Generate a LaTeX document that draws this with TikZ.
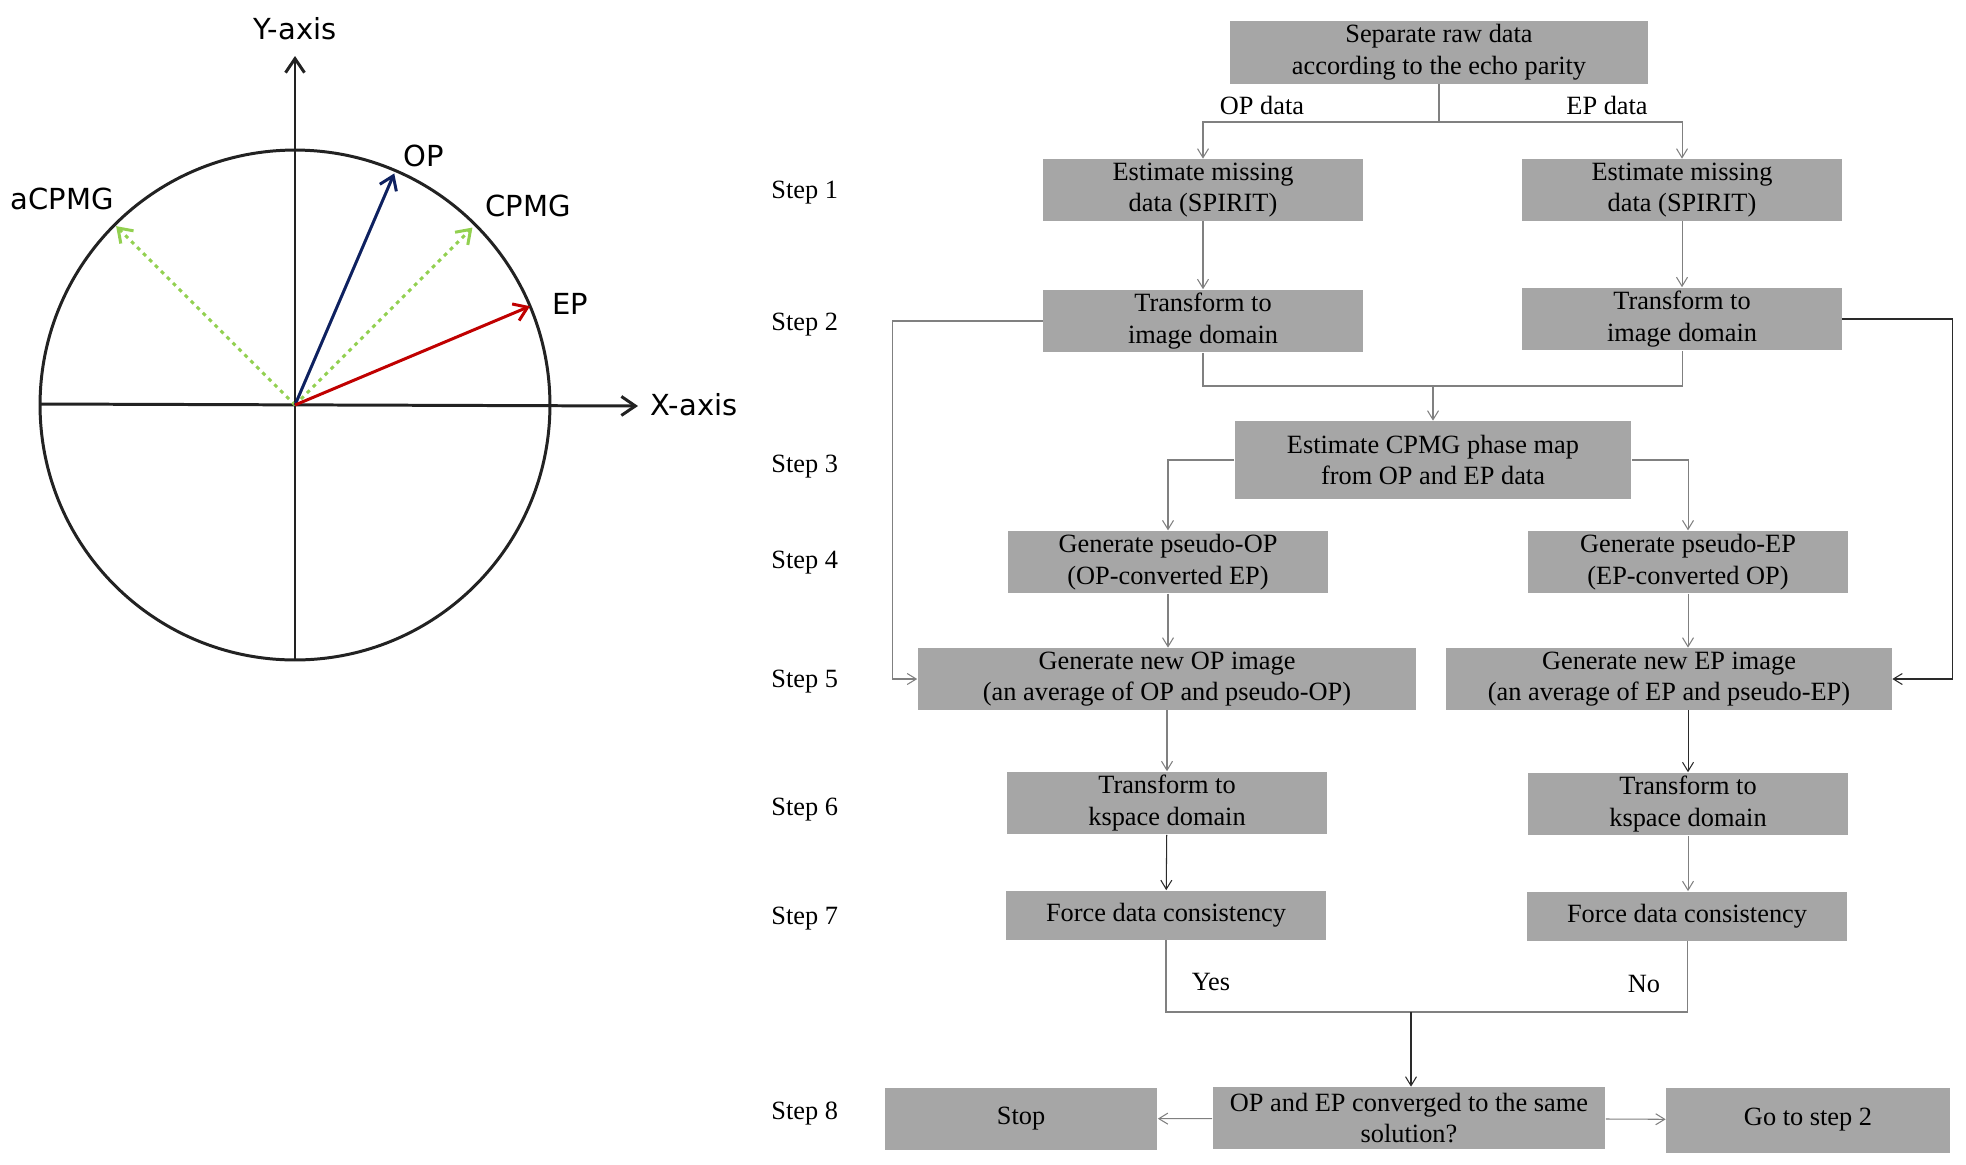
\documentclass[tikz,border=0pt]{standalone}
\usepackage{fontspec}
\setmainfont{Liberation Serif}
\newfontfamily\axisfont{DejaVu Sans}
\usetikzlibrary{arrows.meta}
\definecolor{boxfill}{HTML}{A6A6A6}
\definecolor{wire}{HTML}{808080}
\definecolor{wiredark}{HTML}{2A2A2A}
\definecolor{axisink}{HTML}{222222}
\definecolor{opblue}{HTML}{0E2160}
\definecolor{epred}{HTML}{C00000}
\definecolor{cpmggreen}{HTML}{92D050}

\begin{document}
\begin{tikzpicture}[x=0.02cm, y=-0.02cm,
    box/.style={fill=boxfill, inner sep=2pt, align=center,
                minimum width=6.4cm, minimum height=1.24cm,
                font=\fontsize{15}{18}\selectfont},
    steplabel/.style={anchor=west, inner sep=0pt, font=\fontsize{15}{18}\selectfont},
    flowlabel/.style={inner sep=0pt, font=\fontsize{15}{18}\selectfont},
    flow/.style={draw=wire, line width=0.6pt},
    farrow/.style={flow, -{Straight Barb[length=1.8mm,width=2.2mm]}},
    axislabel/.style={inner sep=0pt, font=\axisfont\fontsize{16.5}{20}\selectfont},
    axisline/.style={draw=axisink, line width=1.7pt},
    vec/.style={line width=1.7pt, -{Straight Barb[length=2.6mm,width=3.6mm]}},
  ]
  \useasboundingbox (0,0) rectangle (1966,1164);

  % phase diagram
  \coordinate (o) at (295,405);
  \draw[axisline] (o) circle[radius=5.1cm];
  \draw[axisline, -{Straight Barb[length=2.8mm,width=3.8mm]}] (40,404) -- (638,406);
  \draw[axisline, -{Straight Barb[length=2.8mm,width=3.8mm]}] (295,661) -- (295,56);
  \draw[vec, cpmggreen, dash pattern=on 2.2pt off 2.6pt] (o) -- ++(135:5.06cm);
  \draw[vec, cpmggreen, dash pattern=on 2.2pt off 2.6pt] (o) -- ++(45:5.02cm);
  \draw[vec, opblue] (o) -- ++(66.8:5.04cm);
  \draw[vec, epred] (o) -- ++(22.8:5.1cm);
  \node[axislabel] (ylab) at (295,29) {Y-axis};
  \node[axislabel] (xlab) at (694,405) {X-axis};
  \node[axislabel] (oplab) at (424,156) {OP};
  \node[axislabel] (cpmglab) at (528,206) {CPMG};
  \node[axislabel] (eplab) at (570,304) {EP};
  \node[axislabel] (acpmglab) at (62,199) {aCPMG};

  % step labels
  \node[steplabel] (s1) at (771,193) {Step 1};
  \node[steplabel] (s2) at (771,325) {Step 2};
  \node[steplabel] (s3) at (771,467) {Step 3};
  \node[steplabel] (s4) at (771,563) {Step 4};
  \node[steplabel] (s5) at (771,682) {Step 5};
  \node[steplabel] (s6) at (771,810) {Step 6};
  \node[steplabel] (s7) at (771,919) {Step 7};
  \node[steplabel] (s8) at (771,1114) {Step 8};

  % flow chart
  \node[box, minimum width=8.38cm, minimum height=1.26cm] (raw) at (1439,52)
    {Separate raw data\\according to the echo parity};
  \node[box] (op1) at (1203,190) {Estimate missing\\data (SPIRIT)};
  \node[box] (ep1) at (1682,190) {Estimate missing\\data (SPIRIT)};
  \node[box] (op2) at (1203,321) {Transform to\\image domain};
  \node[box] (ep2) at (1682,319) {Transform to\\image domain};
  \node[box, minimum width=7.94cm, minimum height=1.56cm] (cpmg) at (1433,460)
    {Estimate CPMG phase map\\from OP and EP data};
  \node[box, minimum height=1.2cm] (pop) at (1168,562) {Generate pseudo-OP\\(OP-converted EP)};
  \node[box, minimum height=1.2cm] (pep) at (1688,562) {Generate pseudo-EP\\(EP-converted OP)};
  \node[box, minimum width=9.98cm] (nop) at (1167,679)
    {Generate new OP image\\(an average of OP and pseudo-OP)};
  \node[box, minimum width=8.92cm] (nep) at (1669,679)
    {Generate new EP image\\(an average of EP and pseudo-EP)};
  \node[box] (kop) at (1167,803) {Transform to\\kspace domain};
  \node[box] (kep) at (1688,804) {Transform to\\kspace domain};
  \node[box, minimum height=0.98cm] (fop) at (1166,915) {Force data consistency};
  \node[box, minimum height=0.98cm] (fep) at (1687,916) {Force data consistency};
  \node[box, minimum width=7.86cm] (conv) at (1409,1118)
    {OP and EP converged to the same\\solution?};
  \node[box, minimum width=5.46cm] (stop) at (1021,1119) {Stop};
  \node[box, minimum width=5.68cm, minimum height=1.3cm] (goto) at (1808,1120) {Go to step 2};

  \node[flowlabel] (opdata) at (1262,105) {OP data};
  \node[flowlabel] (epdata) at (1607,105) {EP data};
  \node[flowlabel] (yes) at (1211,982) {Yes};
  \node[flowlabel] (no) at (1644,984) {No};

  \coordinate (split) at (1439,122);
  \coordinate (join2) at (1433,386);
  \coordinate (join7) at (1411,1012);

  \draw[flow] (raw.south) -- (split);
  \draw[farrow] (split) -| (op1.north);
  \draw[farrow] (split) -| (ep1.north);
  \draw[farrow] (op1) -- (op2);
  \draw[farrow] (ep1.south) -- (ep1.south |- ep2.north);
  \draw[flow] (op2.south) |- (join2);
  \draw[flow] (ep2.south) |- (join2);
  \draw[farrow] (join2) -- (cpmg.north);
  \draw[farrow] (cpmg.west) -| (pop.north);
  \draw[farrow] (cpmg.east) -| (pep.north);
  \draw[farrow] (pop) -- (pop.south |- nop.north);
  \draw[farrow] (pep.south) -- (pep.south |- nep.north);
  \draw[farrow] (op2.west) -- ++(-150,0) |- (nop.west);
  \draw[farrow, draw=wiredark] (ep2.east) -- ++(110,0) |- (nep.east);
  \draw[farrow] (nop) -- (kop);
  \draw[farrow, draw=wiredark] (kep.north |- nep.south) -- (kep.north);
  \draw[farrow, draw=wiredark] (kop) -- (fop);
  \draw[farrow] (kep) -- (kep.south |- fep.north);
  \draw[flow] (fop.south) |- (join7);
  \draw[flow] (fep.south) |- (join7);
  \draw[farrow, draw=wiredark] (join7) -- (join7 |- conv.north);
  \draw[farrow] (conv) -- (stop);
  \draw[farrow] (conv) -- (goto);
\end{tikzpicture}
\end{document}
